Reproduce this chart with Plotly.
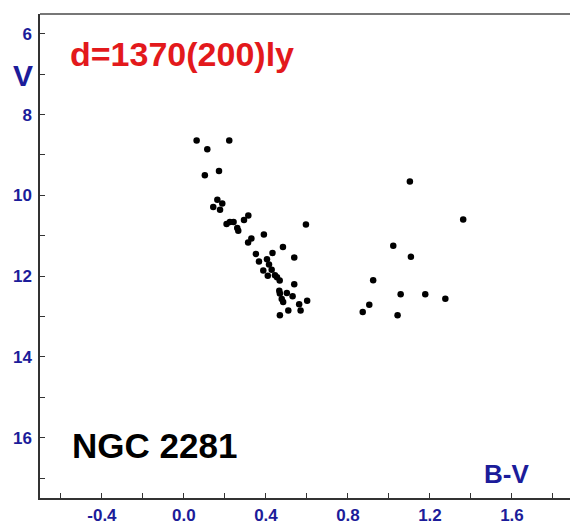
import plotly.graph_objects as go

# Colour index (B-V) and apparent magnitude (V) for NGC 2281 members
bv = [0.062, 0.221, 0.114, 0.102, 0.171, 0.163, 0.187, 0.143, 0.176, 0.314,
      0.293, 0.208, 0.224, 0.242, 0.260, 0.265, 0.595, 0.390, 0.329, 0.313,
      0.483, 0.351, 0.432, 0.366, 0.405, 0.538, 0.415, 0.387, 0.428, 0.409,
      0.444, 0.454, 0.467, 0.538, 0.465, 0.468, 0.502, 0.530, 0.477, 0.484,
      0.562, 0.601, 0.509, 0.569, 0.468,
      1.102, 1.362, 1.021, 1.107, 0.923, 1.057, 1.177, 1.275, 0.904, 0.872, 1.042]
vmag = [8.64, 8.64, 8.86, 9.50, 9.40, 10.11, 10.20, 10.29, 10.36, 10.50,
        10.61, 10.71, 10.66, 10.66, 10.81, 10.88, 10.72, 10.97, 11.07, 11.17,
        11.28, 11.45, 11.43, 11.64, 11.58, 11.54, 11.71, 11.86, 11.84, 11.99,
        11.98, 12.03, 12.11, 12.20, 12.36, 12.43, 12.42, 12.50, 12.57, 12.64,
        12.70, 12.61, 12.85, 12.85, 12.97,
        9.66, 10.60, 11.25, 11.52, 12.10, 12.45, 12.45, 12.56, 12.71, 12.89, 12.97]

x_tickvals = [-0.4, 0.0, 0.4, 0.8, 1.2, 1.6]
x_ticktext = ["-0.4", "0.0", "0.4", "0.8", "1.2", "1.6"]
y_tickvals = [6, 8, 10, 12, 14, 16]
y_ticktext = ["6", "8", "10", "12", "14", "16"]

BLUE = "#1c1c9a"
RED = "#e3191c"
FONT = "Liberation Sans, Arial, sans-serif"

fig = go.Figure()
fig.add_trace(go.Scatter(
    x=bv, y=vmag, mode="markers",
    marker=dict(size=6.5, color="black", line=dict(width=0)),
    hoverinfo="skip", showlegend=False,
))

fig.update_layout(
    width=570, height=525,
    margin=dict(l=40, r=0, t=14, b=22),
    paper_bgcolor="white", plot_bgcolor="white",
    font=dict(family=FONT),
    xaxis=dict(
        range=[-0.702, 1.883],
        tickmode="array", tickvals=x_tickvals, ticktext=x_ticktext,
        ticks="inside", ticklen=5, tickwidth=1, tickcolor="#333",
        minor=dict(dtick=0.2, tick0=0, ticks="inside", ticklen=5, tickwidth=1, tickcolor="#333", showgrid=False),
        showgrid=False, zeroline=False,
        showline=True, linecolor="#333", linewidth=1.5,
        tickfont=dict(size=17, color=BLUE, family=FONT, weight="bold"),
        ticklabelstandoff=1,
    ),
    yaxis=dict(
        range=[17.495, 5.51],
        tickmode="array", tickvals=y_tickvals, ticktext=y_ticktext,
        ticks="inside", ticklen=5, tickwidth=1, tickcolor="#333",
        minor=dict(dtick=1, tick0=6, ticks="inside", ticklen=5, tickwidth=1, tickcolor="#333", showgrid=False),
        showgrid=False, zeroline=False,
        showline=True, linecolor="#333", linewidth=1.5,
        tickfont=dict(size=17, color=BLUE, family=FONT, weight="bold"),
        ticklabelstandoff=3,
    ),
    shapes=[dict(type="line", xref="paper", yref="paper", x0=0, x1=1, y0=1, y1=1,
                 line=dict(color="#777", width=2))],
    annotations=[
        dict(text="d=1370(200)ly", xref="paper", yref="paper", x=0.0528, y=0.918,
             xanchor="left", yanchor="middle", showarrow=False,
             font=dict(size=34, color=RED, family=FONT, weight="bold")),
        dict(text="NGC 2281", xref="paper", yref="paper", x=0.0566, y=0.1084,
             xanchor="left", yanchor="middle", showarrow=False,
             font=dict(size=35, color="black", family=FONT, weight="bold")),
        dict(text="B-V", xref="paper", yref="paper", x=0.88, y=0.049,
             xanchor="center", yanchor="middle", showarrow=False,
             font=dict(size=26, color=BLUE, family=FONT, weight="bold")),
        dict(text="V", xref="paper", yref="paper", x=-0.033, y=0.873,
             xanchor="center", yanchor="middle", showarrow=False,
             font=dict(size=30, color=BLUE, family=FONT, weight="bold")),
    ],
)

fig.write_html("out.html")
